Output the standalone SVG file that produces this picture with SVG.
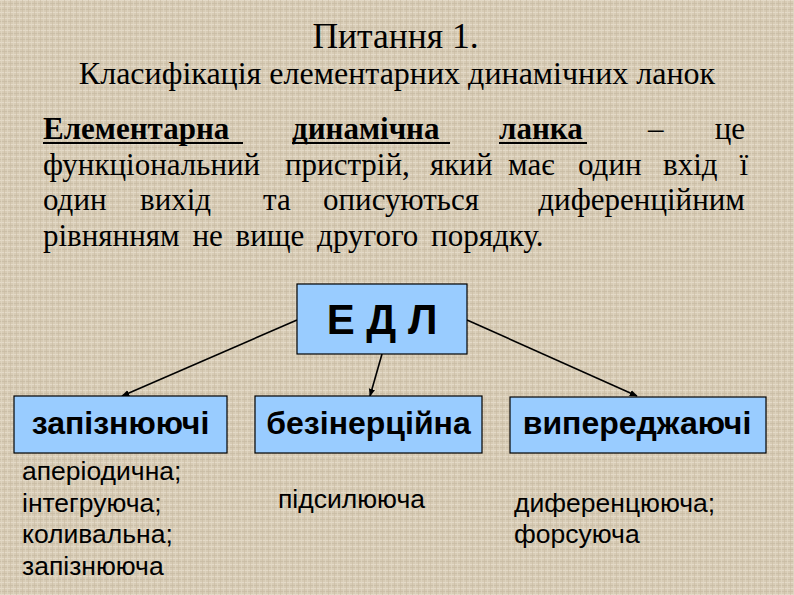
<svg xmlns="http://www.w3.org/2000/svg" width="794" height="595" viewBox="0 0 794 595">
<defs>
<pattern id="tex" width="6" height="6" patternUnits="userSpaceOnUse">
<rect width="6" height="6" fill="#d7cbb5"/>
<rect x="0" y="0" width="6" height="1" fill="#e4dac8"/>
<rect x="0" y="3" width="6" height="1" fill="#cbbfa8"/>
<rect x="1" y="0" width="1" height="6" fill="#e1d7c4" opacity="0.7"/>
<rect x="4" y="0" width="1" height="6" fill="#c9bca4" opacity="0.6"/>
</pattern>
<marker id="arr" viewBox="0 0 10 10" refX="9" refY="5" markerWidth="8" markerHeight="8" markerUnits="userSpaceOnUse" orient="auto">
<path d="M0,1 L10,5 L0,9 Z" fill="#000"/>
</marker>
<style>
.s{font-family:"Liberation Serif",serif;fill:#000}
.title{font-size:35.5px}
.sub{font-size:32px}
.p{font-size:31px}
.b{font-weight:bold}
.box{fill:#99ccff;stroke:#000;stroke-width:1.2}
.lbl{font-family:"Liberation Sans",Arial,sans-serif;font-weight:bold;font-size:32px;fill:#000;text-anchor:middle}
.lst{font-family:"Liberation Sans",Arial,sans-serif;font-size:26.5px;fill:#000}
.ul{stroke:#000;stroke-width:2.2}
.con{stroke:#000;stroke-width:1.6;fill:none;marker-end:url(#arr)}
</style>
</defs>
<rect width="794" height="595" fill="url(#tex)"/>
<g id="titles">
<text class="s title" x="395.5" y="48" text-anchor="middle">Питання 1.</text>
<text class="s sub" x="397" y="84" text-anchor="middle">Класифікація елементарних динамічних ланок</text>
</g>
<g id="paragraph">
<text class="s p b" x="43" y="139">Елементарна</text>
<text class="s p b" x="292" y="139">динамічна</text>
<text class="s p b" x="499" y="139">ланка</text>
<text class="s p" x="648" y="139">–</text>
<text class="s p" x="745" y="139" text-anchor="end">це</text>
<line class="ul" x1="43" y1="143" x2="243" y2="143"/>
<line class="ul" x1="292" y1="143" x2="450" y2="143"/>
<line class="ul" x1="499" y1="143" x2="587" y2="143"/>
<text class="s p" x="43" y="175">функціональний</text>
<text class="s p" x="285" y="175">пристрій,</text>
<text class="s p" x="430" y="175">який</text>
<text class="s p" x="508" y="175">має</text>
<text class="s p" x="578" y="175">один</text>
<text class="s p" x="663" y="175">вхід</text>
<text class="s p" x="748" y="175" text-anchor="end">ї</text>
<text class="s p" x="43" y="210">один</text>
<text class="s p" x="140" y="210">вихід</text>
<text class="s p" x="263" y="210">та</text>
<text class="s p" x="323" y="210">описуються</text>
<text class="s p" x="745" y="210" text-anchor="end">диференційним</text>
<text class="s p" x="43" y="246" word-spacing="5">рівнянням не вище другого порядку.</text>
</g>
<g id="connectors">
<line class="con" x1="297" y1="320" x2="122" y2="396"/>
<line class="con" x1="382" y1="354" x2="370" y2="396"/>
<line class="con" x1="467" y1="320" x2="637" y2="396"/>
</g>
<g id="edl">
<rect class="box" x="297" y="284" width="170" height="70"/>
<text class="lbl" x="382" y="334" style="font-size:42px">Е Д Л</text>
</g>
<g id="zapiznyuyuchi">
<rect class="box" x="14" y="396" width="213" height="57"/>
<text class="lbl" x="120.5" y="434">запізнюючі</text>
<text class="lst"><tspan x="22" y="480">аперіодична;</tspan><tspan x="22" y="512">інтегруюча;</tspan><tspan x="22" y="543">коливальна;</tspan><tspan x="22" y="575">запізнююча</tspan></text>
</g>
<g id="bezinertsiyna">
<rect class="box" x="255" y="396" width="227" height="57"/>
<text class="lbl" x="368.5" y="434">безінерційна</text>
<text class="lst" x="278" y="508">підсилююча</text>
</g>
<g id="vyperedzhayuchi">
<rect class="box" x="510" y="397" width="256" height="56"/>
<text class="lbl" x="637" y="434">випереджаючі</text>
<text class="lst"><tspan x="514" y="512">диференцююча;</tspan><tspan x="514" y="543">форсуюча</tspan></text>
</g>
</svg>
